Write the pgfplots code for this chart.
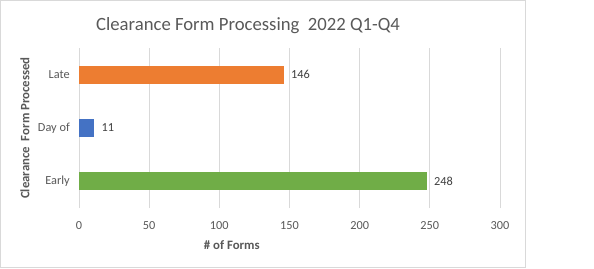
\documentclass[border=0pt]{standalone}
\usepackage{pgfplots}
\pgfplotsset{compat=1.18}
\usepackage{fontspec}
\setmainfont{Carlito}
\definecolor{txt}{HTML}{595959}
\definecolor{lbl}{HTML}{404040}
\definecolor{grd}{HTML}{D9D9D9}
\definecolor{cOr}{HTML}{ED7D31}
\definecolor{cBl}{HTML}{4472C4}
\definecolor{cGr}{HTML}{70AD47}
\begin{document}
\fontsize{12pt}{14pt}\selectfont
\begin{tikzpicture}[x=1pt,y=1pt]
\useasboundingbox (0,0) rectangle (594,268);
\fill[white] (0,0) rectangle (594,268);
\draw[grd] (0.5,0.5) rectangle (525.5,267.5);
\node[txt,font=\fontsize{18.7pt}{22pt}\selectfont] at (248,242) {Clearance Form Processing\ \ 2022 Q1-Q4};
\begin{axis}[
  at={(79pt,60pt)}, anchor=south west,
  scale only axis, width=421pt, height=160pt,
  xmin=0, xmax=300, ymin=-0.5, ymax=2.5,
  xtick={0,50,...,300}, ytick={0,1,2},
  yticklabels={Early,Day of,Late},
  /pgf/number format/assume math mode=true,
  axis line style={draw=none},
  major tick length=0pt,
  xmajorgrids, major grid style={grd, line width=0.75pt},
  tick label style={txt, font=\fontsize{12.3pt}{14pt}\selectfont},
  xticklabel style={yshift=-9pt},
  yticklabel style={xshift=-5pt},
  xlabel={\textbf{\# of Forms}},
  xlabel style={txt, font=\fontsize{12.8pt}{15pt}\selectfont, at={(rel axis cs:0.363,0)}, anchor=center, yshift=-37pt},
  ylabel={\textbf{Clearance\ \ Form Processed}},
  ylabel style={txt, font=\fontsize{12.8pt}{15pt}\selectfont, at={(rel axis cs:0,0.5)}, anchor=center, yshift=54pt},
  xbar, bar width=18pt, bar shift=0pt,
  nodes near coords,
  every node near coord/.append style={lbl, font=\fontsize{12.3pt}{14pt}\selectfont, xshift=3pt},
  clip=false,
]
\addplot[fill=cGr, draw=none] coordinates {(248,0)};
\addplot[fill=cBl, draw=none] coordinates {(11,1)};
\addplot[fill=cOr, draw=none] coordinates {(146,2)};
\end{axis}
\end{tikzpicture}
\end{document}
